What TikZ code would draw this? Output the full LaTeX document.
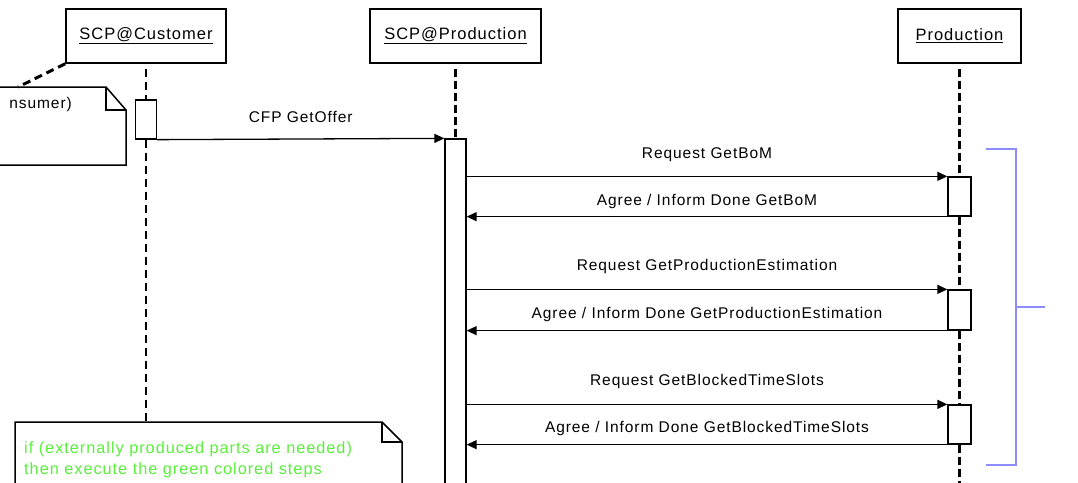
\documentclass[tikz,border=0pt]{standalone}
\usepackage{fontspec}
\setmainfont{Liberation Sans}[LetterSpace=6]
\usetikzlibrary{arrows.meta,calc}
\definecolor{notegreen}{RGB}{90,240,60}
\definecolor{brblue}{RGB}{140,140,255}
\begin{document}
\begin{tikzpicture}[x=1pt,y=-1pt,
  font=\fontsize{15.5}{20}\selectfont,
  head/.style={draw,line width=1.5pt,minimum width=#1,minimum height=54pt,inner sep=0pt,fill=white,font=\fontsize{16.5}{20}\selectfont},
  act/.style={draw,line width=1.3pt,fill=white,minimum width=21pt,inner sep=0pt},
  lifethick/.style={line width=3pt,dash pattern=on 8pt off 4pt},
  lifethin/.style={line width=1.6pt,dash pattern=on 8pt off 5pt},
  msg/.style={line width=1.3pt,-{Triangle[length=10pt,width=9pt]}},
  lbl/.style={inner sep=0pt},
  notebox/.style={line width=1.5pt,fill=white}]
\useasboundingbox (0,0) rectangle (1078,482);
\fill[white] (0,0) rectangle (1078,482);

% headers
\node[head=160pt] (h1) at (146,36) {\underline{SCP@Customer}};
\node[head=171pt] (h2) at (455.5,36) {\underline{SCP@Production}};
\node[head=123pt] (h3) at (959.5,36) {\underline{Production}};

% activations
\node[act,minimum height=39pt] (ca) at (146,119.5) {};
\node[act,minimum height=360pt] (pa) at (455.5,319) {};
\node[act,minimum height=39pt,minimum width=23pt] (p1) at (959.5,196.5) {};
\node[act,minimum height=40pt,minimum width=23pt] (p2) at (959.5,310) {};
\node[act,minimum height=39pt,minimum width=23pt] (p3) at (959.5,424.5) {};

% top-left note
\coordinate (n1) at (18,87);
\draw[notebox] (-5,87) -- (106,87) -- (126,110) -- (126,165) -- (-5,165);
\draw[line width=1.5pt] (106,87) -- (106,110) -- (126,110);
\node[lbl,anchor=east] (n1t) at (72,104) {nsumer)};
\draw[line width=3pt,dash pattern=on 8pt off 5pt] (h1.south west) -- (n1);

% bottom note
\coordinate (n2) at (146,422);
\draw[notebox] (15,490) -- (15,422) -- (382,422) -- (402,442) -- (402,490);
\draw[line width=1.5pt] (382,422) -- (382,442) -- (402,442);
\node[lbl,anchor=west,text=notegreen,align=left,font=\fontsize{16.3}{21}\selectfont] (n2t) at (24,460)
  {if (externally produced parts are needed)\\then execute the green colored steps};

% lifelines
\draw[lifethin,shorten <=5pt] (h1.south) -- (ca.north);
\draw[lifethin] (ca.south) -- (n2);
\draw[lifethick,shorten <=5pt] (h2.south) -- (pa.north);
\draw[lifethick,shorten <=5pt] (h3.south) -- (p1.north);
\draw[lifethick] (p1.south) -- (p2.north);
\draw[lifethick] (p2.south) -- (p3.north);
\coordinate (pend) at (959.5,490);
\draw[lifethick] (p3.south) -- (pend);

% messages
\draw[msg] (ca.south east) -- node[lbl,yshift=22pt] (m0) {CFP GetOffer} (pa.north west);
\draw[msg] (pa.east |- p1.north west) -- node[lbl,yshift=22pt] (m1) {Request GetBoM} (p1.north west);
\draw[msg] (p1.south west) -- node[lbl,yshift=15pt] (m2) {Agree / Inform Done GetBoM} (pa.east |- p1.south west);
\draw[msg] (pa.east |- p2.north west) -- node[lbl,yshift=23pt] (m3) {Request GetProductionEstimation} (p2.north west);
\draw[msg] (p2.south west) -- node[lbl,yshift=16pt] (m4) {Agree / Inform Done GetProductionEstimation} (pa.east |- p2.south west);
\draw[msg] (pa.east |- p3.north west) -- node[lbl,yshift=23pt] (m5) {Request GetBlockedTimeSlots} (p3.north west);
\draw[msg] (p3.south west) -- node[lbl,yshift=16pt] (m6) {Agree / Inform Done GetBlockedTimeSlots} (pa.east |- p3.south west);

% blue bracket
\coordinate (b1) at (986,149);
\coordinate (b2) at (1016,149);
\coordinate (b3) at (1016,465);
\coordinate (b4) at (986,465);
\coordinate (bm) at (1016,307);
\coordinate (bt) at (1045,307);
\draw[brblue,line width=1.3pt] (b1) -- (b2) -- (b3) -- (b4);
\draw[brblue,line width=1.3pt] (bm) -- (bt);
\end{tikzpicture}
\end{document}
